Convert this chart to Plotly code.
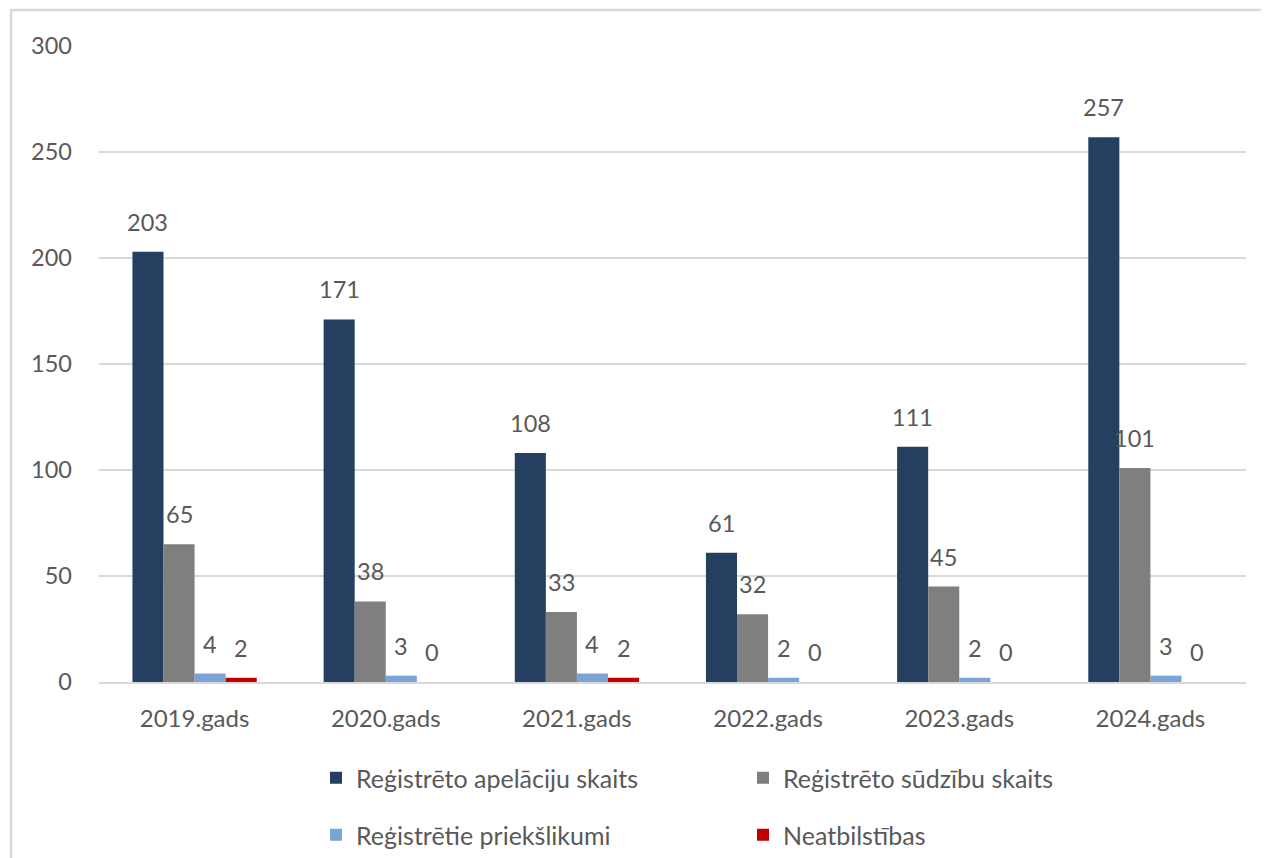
import plotly.graph_objects as go

categories = ["2019.gads", "2020.gads", "2021.gads", "2022.gads", "2023.gads", "2024.gads"]
series_names = [
    "Reģistrēto apelāciju skaits",
    "Reģistrēto sūdzību skaits",
    "Reģistrētie priekšlikumi",
    "Neatbilstības",
]
apelacijas = [203, 171, 108, 61, 111, 257]
sudzibas = [65, 38, 33, 32, 45, 101]
priekslikumi = [4, 3, 4, 2, 2, 3]
neatbilstibas = [2, 0, 2, 0, 0, 0]
y_ticks = [0, 50, 100, 150, 200, 250, 300]

series_values = [apelacijas, sudzibas, priekslikumi, neatbilstibas]
colors = ["#243F60", "#7F7F7F", "#7BA3D6", "#C00000"]
legends = ["legend", "legend", "legend2", "legend2"]

FONT = "Lato"
TXT = "#595959"
W, H = 1269, 858
OFF = 8  # page body offset of the figure on screen
# desired screen positions of the plot area
PX0, PX1, PY0, PY1 = 99, 1246, 46, 682
ML, MT = PX0 - OFF, PY0 - OFF
MR, MB = W - (PX1 - OFF), H - (PY1 - OFF)
PW, PH = PX1 - PX0, PY1 - PY0
BARGAP = 0.35


def px_x(sx):
    return (sx - PX0) / PW


def px_y(sy):
    return (PY1 - sy) / PH


fig = go.Figure()
for name, vals, col, lg in zip(series_names, series_values, colors, legends):
    fig.add_trace(go.Bar(
        x=categories, y=vals, name=name, marker=dict(color=col, line=dict(width=0)),
        legend=lg, hoverinfo="x+y+name",
    ))

# data labels above each bar
n = len(series_values)
bw = (1 - BARGAP) / n
for i, vals in enumerate(series_values):
    for j, v in enumerate(vals):
        fig.add_annotation(
            x=j + (i - (n - 1) / 2) * bw, y=v, text=str(v), showarrow=False,
            yanchor="middle", yshift=30,
            font=dict(family=FONT, size=23.5, color=TXT),
        )

# outer chart border (left/top visible)
fig.add_shape(
    type="rect", xref="paper", yref="paper",
    x0=px_x(11), x1=1.3, y0=-0.5, y1=px_y(10),
    line=dict(color="#D9D9D9", width=2.5), layer="below",
)

leg_common = dict(
    orientation="h", x=px_x(316), xanchor="left", yanchor="middle",
    entrywidth=382, entrywidthmode="pixels", traceorder="normal",
    font=dict(family=FONT, size=25, color=TXT), bgcolor="rgba(0,0,0,0)",
)

fig.update_layout(
    width=W, height=H,
    margin=dict(l=ML, r=MR, t=MT, b=MB, autoexpand=False),
    paper_bgcolor="white", plot_bgcolor="white",
    barmode="group", bargap=BARGAP, bargroupgap=0,
    font=dict(family=FONT, size=24, color=TXT),
    xaxis=dict(showgrid=False, showline=True, linecolor="#D9D9D9", linewidth=2,
               ticks="", tickfont=dict(size=24, color=TXT), ticklabelstandoff=14),
    yaxis=dict(range=[0, 300], tickvals=y_ticks, showgrid=True, gridcolor="#D9D9D9",
               gridwidth=2, zeroline=False, showline=False, ticks="",
               tickfont=dict(size=23.5, color=TXT), ticklabelstandoff=26),
    legend=dict(leg_common, y=px_y(778)),
    legend2=dict(leg_common, y=px_y(835)),
    showlegend=True,
)

fig.write_html("out.html")
